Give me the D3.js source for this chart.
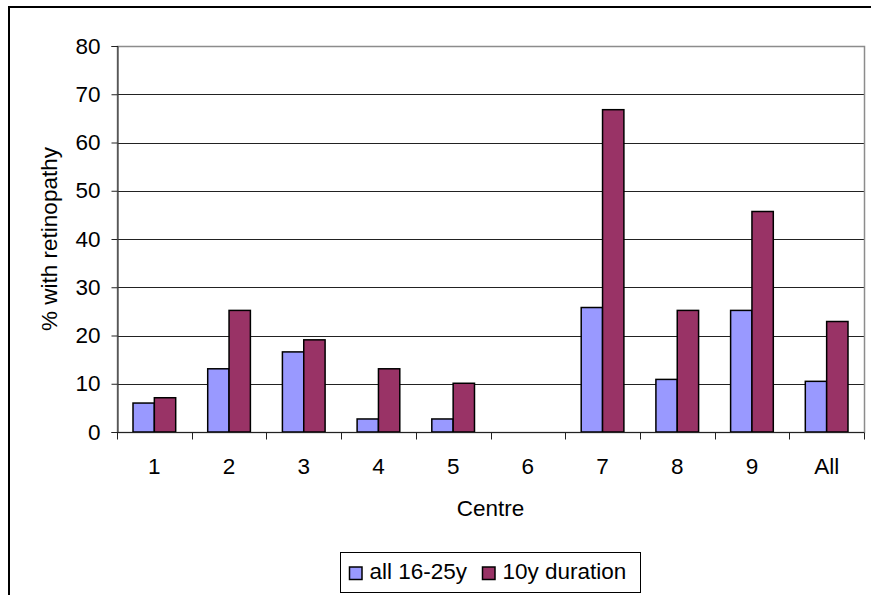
<!DOCTYPE html>
<html>
<head>
<meta charset="utf-8">
<script src="https://cdn.jsdelivr.net/npm/d3@7"></script>
<style>
  html, body { margin: 0; padding: 0; background: #fff; }
  svg { display: block; font-family: "Liberation Sans", Arial, sans-serif; }
</style>
</head>
<body>
<svg id="chart" width="871" height="595"></svg>
<script>
// Retinopathy prevalence by centre
const centres = ["1", "2", "3", "4", "5", "6", "7", "8", "9", "All"];
const seriesNames = ["all 16-25y", "10y duration"];
const all16to25 = [6.0, 13.1, 16.6, 2.7, 2.7, 0, 25.8, 10.9, 25.2, 10.5];
const tenYearDuration = [7.1, 25.2, 19.1, 13.1, 10.1, 0, 66.8, 25.2, 45.7, 22.9];
const yTicks = [0, 10, 20, 30, 40, 50, 60, 70, 80];
const colours = ["#9999FF", "#993366"];

const FS = 22.5;
const svg = d3.select("#chart");
const W = 871, H = 595;
const plot = { left: 117, right: 864, top: 46, bottom: 432 };

// outer chart frame (extends past the right and bottom edges)
svg.append("rect")
  .attr("x", 9).attr("y", 7)
  .attr("width", W + 10).attr("height", H + 10)
  .attr("fill", "#fff").attr("stroke", "#000").attr("stroke-width", 2);

const x = d3.scaleBand().domain(centres).range([plot.left, plot.right]).paddingInner(0).paddingOuter(0);
const y = d3.scaleLinear().domain([0, 80]).range([plot.bottom, plot.top]);
const inner = d3.scaleBand().domain(seriesNames)
  .range([0, x.bandwidth()]).paddingInner(0).paddingOuter(0.75);

// gridlines
svg.append("g").selectAll("line").data(yTicks.filter(t => t > 0 && t < 80)).join("line")
  .attr("x1", plot.left).attr("x2", plot.right)
  .attr("y1", d => Math.round(y(d)) + 0.5).attr("y2", d => Math.round(y(d)) + 0.5)
  .attr("stroke", "#222").attr("stroke-width", 1);

// plot area border
svg.append("rect")
  .attr("x", plot.left + 0.5).attr("y", Math.round(plot.top) + 0.5)
  .attr("width", plot.right - plot.left).attr("height", plot.bottom - plot.top)
  .attr("fill", "none").attr("stroke", "#8c8c8c").attr("stroke-width", 1.5);

// bars
const data = centres.map((c, i) => ({ c, vals: [all16to25[i], tenYearDuration[i]] }));
const groups = svg.append("g").selectAll("g").data(data).join("g")
  .attr("transform", d => `translate(${x(d.c)},0)`);
groups.selectAll("rect")
  .data(d => d.vals.map((v, k) => ({ v, k })).filter(e => e.v > 0))
  .join("rect")
  .attr("x", e => inner(seriesNames[e.k]))
  .attr("width", inner.bandwidth())
  .attr("y", e => y(e.v))
  .attr("height", e => y(0) - y(e.v))
  .attr("fill", e => colours[e.k])
  .attr("stroke", "#000").attr("stroke-width", 1.5);

// y axis
const yAxis = d3.axisLeft(y).tickValues(yTicks).tickSize(6).tickPadding(11).tickFormat(d3.format("d"));
const gy = svg.append("g").attr("transform", `translate(${plot.left + 0.5},0)`).call(yAxis);
gy.select(".domain").attr("stroke", "#222");
gy.selectAll(".tick line").attr("stroke", "#222");
gy.selectAll("text").attr("font-size", FS).attr("fill", "#000")
  .attr("font-family", "Liberation Sans, Arial, sans-serif");

// x axis with ticks between categories
const gx = svg.append("g").attr("transform", `translate(0,${plot.bottom + 0.5})`);
gx.append("line").attr("x1", plot.left).attr("x2", plot.right).attr("stroke", "#222");
const boundaries = d3.range(centres.length + 1).map(i => plot.left + i * x.step());
gx.selectAll("line.tk").data(boundaries).join("line").attr("class", "tk")
  .attr("x1", d => Math.round(d) + 0.5).attr("x2", d => Math.round(d) + 0.5)
  .attr("y1", 0).attr("y2", 7).attr("stroke", "#222");
gx.selectAll("text").data(centres).join("text")
  .attr("x", d => x(d) + x.bandwidth() / 2).attr("y", 41)
  .attr("text-anchor", "middle").attr("font-size", FS).text(d => d);

// axis titles
svg.append("text").attr("x", (plot.left + plot.right) / 2).attr("y", 516)
  .attr("text-anchor", "middle").attr("font-size", FS).text("Centre");
svg.append("text")
  .attr("transform", `translate(57,${(plot.top + plot.bottom) / 2}) rotate(-90)`)
  .attr("text-anchor", "middle").attr("font-size", FS).text("% with retinopathy");

// legend
const lg = svg.append("g");
lg.append("rect").attr("x", 340.5).attr("y", 552.5).attr("width", 300).attr("height", 40)
  .attr("fill", "#fff").attr("stroke", "#000").attr("stroke-width", 1);
const legendX = [349, 482];
seriesNames.forEach((name, k) => {
  lg.append("rect").attr("x", legendX[k] + 0.5).attr("y", 567).attr("width", 12.5).attr("height", 12.5)
    .attr("fill", colours[k]).attr("stroke", "#000").attr("stroke-width", 1.5);
  lg.append("text").attr("x", legendX[k] + 20.5).attr("y", 578.5).attr("font-size", FS).text(name);
});
</script>
</body>
</html>
